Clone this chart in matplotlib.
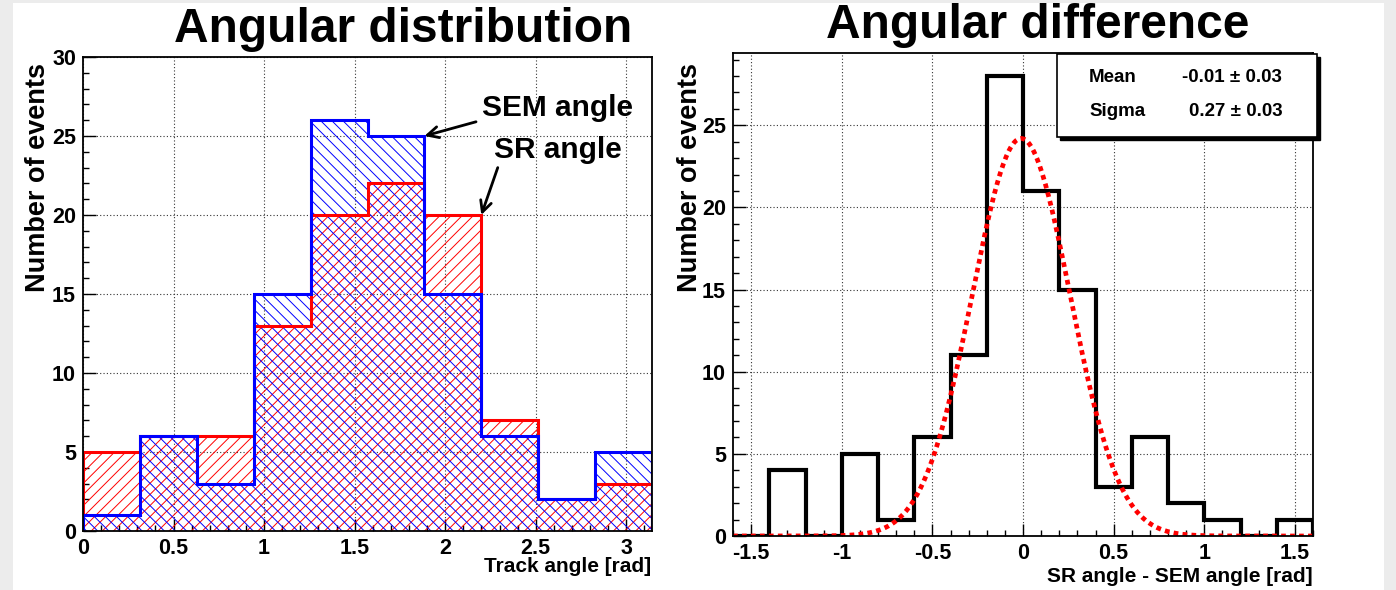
import numpy as np
import matplotlib
matplotlib.use('Agg')
from matplotlib import pyplot as plt
from matplotlib.patches import Rectangle
from matplotlib.ticker import MultipleLocator, FormatStrFormatter

plt.rcParams['font.family'] = ['Liberation Sans', 'DejaVu Sans']
plt.rcParams['font.weight'] = 'bold'
plt.rcParams['axes.unicode_minus'] = False
plt.rcParams['hatch.linewidth'] = 0.7

# track angle histograms, 10 bins over [0, pi]
angle_edges = np.linspace(0, np.pi, 11)
sr_counts = [5, 6, 6, 13, 20, 22, 20, 7, 2, 3]
sem_counts = [1, 6, 3, 15, 26, 25, 15, 6, 2, 5]

# SR - SEM difference, 16 bins over [-1.6, 1.6]
diff_edges = np.linspace(-1.6, 1.6, 17)
diff_counts = [0, 4, 0, 5, 1, 6, 11, 28, 21, 15, 3, 6, 2, 1, 0, 1]

# gaussian fit result
fit_const = 24.2
fit_mean = -0.01
fit_mean_err = 0.03
fit_sigma = 0.27
fit_sigma_err = 0.03


def style_axes(ax, xmajor, ymajor):
    ax.xaxis.set_major_locator(MultipleLocator(xmajor))
    ax.xaxis.set_minor_locator(MultipleLocator(xmajor / 5))
    ax.yaxis.set_major_locator(MultipleLocator(ymajor))
    ax.yaxis.set_minor_locator(MultipleLocator(ymajor / 5))
    ax.xaxis.set_major_formatter(FormatStrFormatter('%g'))
    ax.yaxis.set_major_formatter(FormatStrFormatter('%g'))
    ax.tick_params(which='both', direction='in', top=False, right=False,
                   width=1.0, labelsize=15.5, pad=5)
    ax.tick_params(which='major', length=9)
    ax.tick_params(which='minor', length=4.5)
    ax.grid(True, which='major', color='#333333', linestyle=(0, (1, 2)), linewidth=0.8)
    ax.set_axisbelow(True)
    for s in ax.spines.values():
        s.set_linewidth(1.3)


fig = plt.figure(figsize=(13.96, 5.90), dpi=100, facecolor='#ececec')
fig.patches.append(Rectangle((13 / 1396, 0), 1371 / 1396, 587 / 590,
                             transform=fig.transFigure, facecolor='white',
                             edgecolor='none', zorder=-10))

# left panel
ax1 = fig.add_axes([83 / 1396, 59 / 590, 569 / 1396, 474 / 590])
ax1.stairs(sr_counts, angle_edges, fill=True, facecolor='none', edgecolor='red',
           hatch='///', linewidth=0)
ax1.stairs(sem_counts, angle_edges, fill=True, facecolor='none', edgecolor='blue',
           hatch='\\\\\\', linewidth=0)
ax1.stairs(sr_counts, angle_edges, color='red', linewidth=2.2)
ax1.stairs(sem_counts, angle_edges, color='blue', linewidth=2.2)
ax1.set_xlim(0, np.pi)
ax1.set_ylim(0, 30)
style_axes(ax1, 0.5, 5)

ax1.text(2.62, 26.8, 'SEM angle', fontsize=21.5, ha='center', va='center')
ax1.text(2.62, 24.1, 'SR angle', fontsize=21.5, ha='center', va='center')
arrow = dict(arrowstyle='->', color='black', lw=2, shrinkA=0, shrinkB=0,
             mutation_scale=20)
ax1.annotate('', xy=(angle_edges[6], sem_counts[5]), xytext=(2.17, 25.9),
             arrowprops=arrow)
ax1.annotate('', xy=(angle_edges[7], sr_counts[6]), xytext=(2.29, 23.0),
             arrowprops=arrow)

# right panel
ax2 = fig.add_axes([733 / 1396, 54 / 590, 580 / 1396, 483 / 590])
ax2.stairs(diff_counts, diff_edges, color='black', linewidth=3)
xs = np.linspace(-1.6, 1.6, 400)
gauss = fit_const * np.exp(-0.5 * ((xs - fit_mean) / fit_sigma) ** 2)
ax2.plot(xs, gauss, color='red', linewidth=3.4, linestyle=(0, (1, 0.9)),
         dash_capstyle='butt')
ax2.set_xlim(-1.6, 1.6)
ax2.set_ylim(0, 29.4)
style_axes(ax2, 0.5, 5)

# fit statistics box with drop shadow
bx, by, bw, bh = 0.5586, 0.826, 0.4483, 0.172
ax2.add_patch(Rectangle((bx + 0.006, by - 0.007), bw, bh, transform=ax2.transAxes,
                        facecolor='black', edgecolor='black', clip_on=False, zorder=5))
ax2.add_patch(Rectangle((bx, by), bw, bh, transform=ax2.transAxes,
                        facecolor='white', edgecolor='black', linewidth=1.2,
                        clip_on=False, zorder=6))
ax2.text(0.614, 0.950, 'Mean', transform=ax2.transAxes, fontsize=13.5,
         va='center', ha='left', zorder=7)
ax2.text(0.614, 0.878, 'Sigma', transform=ax2.transAxes, fontsize=13.5,
         va='center', ha='left', zorder=7)
ax2.text(0.947, 0.950, '%.2f \u00b1 %.2f' % (fit_mean, fit_mean_err),
         transform=ax2.transAxes, fontsize=13.5, va='center', ha='right', zorder=7)
ax2.text(0.947, 0.878, '%.2f \u00b1 %.2f' % (fit_sigma, fit_sigma_err),
         transform=ax2.transAxes, fontsize=13.5, va='center', ha='right', zorder=7)

# titles and axis labels
fig.text(403 / 1396, 1 - 29 / 590, 'Angular distribution', fontsize=34.5,
         ha='center', va='center')
fig.text(1038 / 1396, 1 - 26 / 590, 'Angular difference', fontsize=34.5,
         ha='center', va='center')
fig.text(38 / 1396, 1 - 177 / 590, 'Number of events', fontsize=19.5,
         rotation=90, ha='center', va='center')
fig.text(690 / 1396, 1 - 177 / 590, 'Number of events', fontsize=19.5,
         rotation=90, ha='center', va='center')
fig.text(651 / 1396, 1 - 566 / 590, 'Track angle [rad]', fontsize=15,
         ha='right', va='center')
fig.text(1313 / 1396, 1 - 577 / 590, 'SR angle - SEM angle [rad]', fontsize=15,
         ha='right', va='center')

fig.savefig('out.png', dpi=100, facecolor=fig.get_facecolor())
